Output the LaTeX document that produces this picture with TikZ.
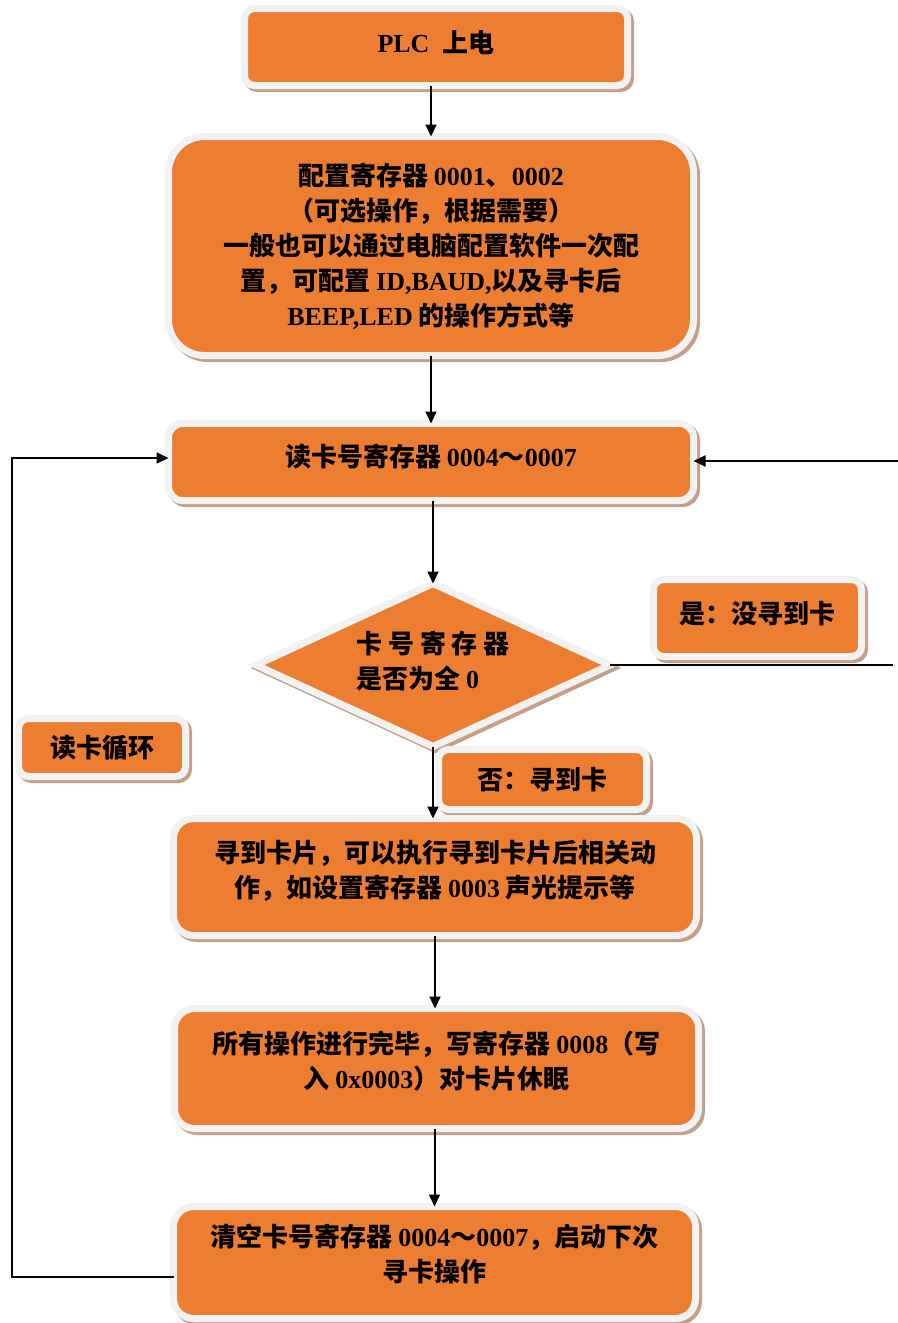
\documentclass[tikz,border=0pt]{standalone}
\usepackage{fontspec}
\setmainfont{Liberation Serif}
\newfontfamily\cjk{Noto Sans CJK SC}
\usetikzlibrary{shapes.geometric,shadows,arrows.meta}
\definecolor{boxfill}{HTML}{ED7D31}
\definecolor{boxrim}{HTML}{F2F2F2}
\definecolor{boxshade}{HTML}{C4A089}
\newcommand\tnr[1]{{\rmfamily\bfseries #1}}
\tikzset{
boxshadow/.style={
  general shadow={fill=boxshade,draw=boxshade,line width=3.5pt,
                  shadow xshift=1.5pt,shadow yshift=-1.5pt}
  },
flowbox/.style={
  rectangle,
  rounded corners=#1,
  fill=boxfill,
  draw=boxrim,
  line width=3.5pt,
  outer sep=0pt,
  inner sep=2pt,
  align=center,
  font=\cjk\bfseries\fontsize{13pt}{17.5pt}\selectfont,
  boxshadow
  },
flowbox/.default=5pt,
decide/.style={
  diamond,
  aspect=2.2,
  fill=boxfill,
  draw=boxrim,
  line width=3.5pt,
  outer sep=0pt,
  inner sep=0pt,
  align=left,
  font=\cjk\bfseries\fontsize{13pt}{17.5pt}\selectfont,
  minimum width=177pt,
  minimum height=81.5pt,
  boxshadow
  },
link/.style={line width=1pt}
}

\begin{document}
\begin{tikzpicture}[x=0.5pt,y=-0.5pt,>={Triangle[length=6pt,width=5.5pt]}]
\useasboundingbox (0,0) rectangle (898,1323);

\node[flowbox,minimum width=191.5pt,minimum height=38.5pt,text depth=6pt] (plc) at (436,47)
  {\tnr{PLC\ \ }上电};
\node[flowbox=18pt,minimum width=262.5pt,minimum height=109.5pt] (cfg) at (431,246)
  {配置寄存器 \tnr{0001}、\tnr{0002}\\（可选操作，根据需要）\\一般也可以通过电脑配置软件一次配\\置，可配置 \tnr{ID,BAUD,}以及寻卡后\\\tnr{BEEP,LED} 的操作方式等};
\node[flowbox=7pt,minimum width=262.5pt,minimum height=38.5pt,text depth=7pt] (rd) at (431,462)
  {读卡号寄存器 \tnr{0004}～\tnr{0007}};
\node[decide,text depth=5pt] (dia) at (433,665)
  {卡 号 寄 存 器\\是否为全 \tnr{0}};
\node[flowbox,minimum width=104pt,minimum height=38.5pt,text depth=6pt] (yes) at (757.5,618)
  {是：没寻到卡};
\node[flowbox,minimum width=104pt,minimum height=30pt] (no) at (542.5,779.5)
  {否：寻到卡};
\node[flowbox,minimum width=83.5pt,minimum height=29pt] (loop) at (102,747.5)
  {读卡循环};
\node[flowbox=10pt,minimum width=261.5pt,minimum height=58.5pt,text depth=8pt] (fnd) at (435,877)
  {寻到卡片，可以执行寻到卡片后相关动\\作，如设置寄存器 \tnr{0003} 声光提示等};
\node[flowbox=10pt,minimum width=262pt,minimum height=60pt,text depth=8.5pt] (slp) at (436.5,1068.5)
  {所有操作进行完毕，写寄存器 \tnr{0008}（写\\入 \tnr{0x0003}）对卡片休眠};
\node[flowbox=10pt,minimum width=261pt,minimum height=56pt,text depth=9.5pt] (clr) at (434.5,1262.5)
  {清空卡号寄存器 \tnr{0004}～\tnr{0007}，启动下次\\寻卡操作};

\coordinate (lpbot) at (12,1277);
\coordinate (lptop) at (12,458);
\coordinate (ynend) at (893,665);
\coordinate (back) at (898,461);

\draw[link,->] (plc.south -| cfg.north) -- (cfg.north);
\draw[link,->] (cfg) -- (rd);
\draw[link,->] (rd.south -| dia.north) -- (dia.north);
\draw[link,->] (dia.south) -- (dia.south |- fnd.north);
\draw[link,->] (fnd.south) -- (fnd.south |- slp.north);
\draw[link,->] (slp.south -| clr.north) -- (clr.north);
\draw[link,->] (clr.west |- lpbot) -- (lpbot) -- (lptop) -- (rd.west |- lptop);
\draw[link] (dia.east) -- (ynend);
\draw[link,->] (back) -- (rd.east |- back);

\end{tikzpicture}
\end{document}
